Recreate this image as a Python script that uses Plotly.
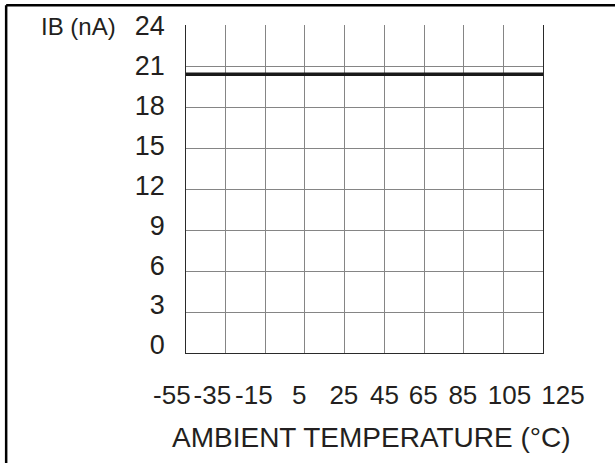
import plotly.graph_objects as go

# ---- data ----
temperature_c = [-55, -35, -15, 5, 25, 45, 65, 85, 105, 125]
ib_na = [20.4, 20.4, 20.4, 20.4, 20.4, 20.4, 20.4, 20.4, 20.4, 20.4]

x_tick_labels = ["-55", "-35", "-15", "5", "25", "45", "65", "85", "105", "125"]
y_tick_values = [0, 3, 6, 9, 12, 15, 18, 21, 24]
y_tick_labels = ["0", "3", "6", "9", "12", "15", "18", "21", "24"]

# label placement along the axis (°C) as printed in the reference
x_label_pos = [-62.0, -41.6, -20.7, 2.2, 24.6, 45.1, 64.6, 84.5, 108.0, 134.9]

FONT = "Liberation Sans, Arial, sans-serif"
TXT = "#231f20"
GRID = "#858585"
EDGE = "#2a2a2a"

fig = go.Figure()
fig.add_trace(go.Scatter(
    x=temperature_c, y=ib_na, mode="lines",
    line=dict(color="#1a1a1a", width=3.5),
    showlegend=False, hoverinfo="skip",
))
# invisible carriers for the label axes
fig.add_trace(go.Scatter(
    x=temperature_c, y=ib_na, xaxis="x2", yaxis="y3", mode="markers",
    marker=dict(opacity=0), showlegend=False, hoverinfo="skip",
))
fig.add_trace(go.Scatter(
    x=temperature_c, y=ib_na, xaxis="x", yaxis="y2", mode="markers",
    marker=dict(opacity=0), showlegend=False, hoverinfo="skip",
))

fig.update_layout(
    width=615, height=463,
    margin=dict(l=146.3, r=32, t=24.7, b=110, autoexpand=False),
    paper_bgcolor="white", plot_bgcolor="rgba(0,0,0,0)",
    font=dict(family=FONT, color=TXT),
    xaxis=dict(
        domain=[20 / 220, 200 / 220], range=[-55, 125], anchor="y",
        tickmode="array", tickvals=temperature_c, showticklabels=False,
        showgrid=True, gridcolor=GRID, gridwidth=1.3,
        showline=True, linecolor=EDGE, linewidth=1.3, mirror=False,
        zeroline=False, ticks="", automargin=False,
    ),
    xaxis2=dict(
        domain=[0, 1], range=[-75, 145], anchor="y3", side="bottom",
        tickmode="array", tickvals=x_label_pos, ticktext=x_tick_labels,
        tickfont=dict(size=26, family=FONT, color=TXT), tickangle=0,
        showgrid=False, zeroline=False, showline=False, ticks="",
        ticklabelstandoff=24, automargin=False,
    ),
    yaxis=dict(
        domain=[0, 1], range=[0, 24], anchor="x",
        tickmode="array", tickvals=y_tick_values, showticklabels=False,
        showgrid=True, gridcolor=GRID, gridwidth=1.3,
        showline=True, linecolor=EDGE, linewidth=1.3, mirror=True,
        zeroline=False, ticks="", automargin=False,
    ),
    yaxis2=dict(
        domain=[0, 1], range=[-0.6, 24.02], overlaying="y", anchor="x", side="left",
        tickmode="array", tickvals=y_tick_values, ticktext=y_tick_labels,
        tickfont=dict(size=27, family=FONT, color=TXT),
        showgrid=False, zeroline=False, showline=False, ticks="",
        ticklabelstandoff=20, automargin=False,
    ),
    yaxis3=dict(
        domain=[0, 1], range=[0, 24], anchor="x2", visible=False,
        showgrid=False, zeroline=False, showline=False, automargin=False,
    ),
    annotations=[
        dict(text="IB (nA)", xref="paper", yref="paper", x=-0.065, y=0.996,
             xanchor="right", yanchor="middle", showarrow=False,
             font=dict(size=24, family=FONT, color=TXT)),
        dict(text="AMBIENT TEMPERATURE (°C)", xref="paper", yref="paper",
             x=0.517, y=-0.259, xanchor="center", yanchor="middle", showarrow=False,
             font=dict(size=28, family=FONT, color=TXT)),
    ],
    shapes=[
        dict(type="line", xref="paper", yref="paper", x0=-0.32, x1=1.2, y0=1.06, y1=1.06,
             line=dict(color="black", width=2.5)),
        dict(type="line", xref="paper", yref="paper", x0=-0.32, x1=-0.32, y0=1.06, y1=-0.45,
             line=dict(color="black", width=2.5)),
    ],
)

fig.write_html("out.html", config={"displayModeBar": False},
               post_script="document.body.style.margin='0';")
